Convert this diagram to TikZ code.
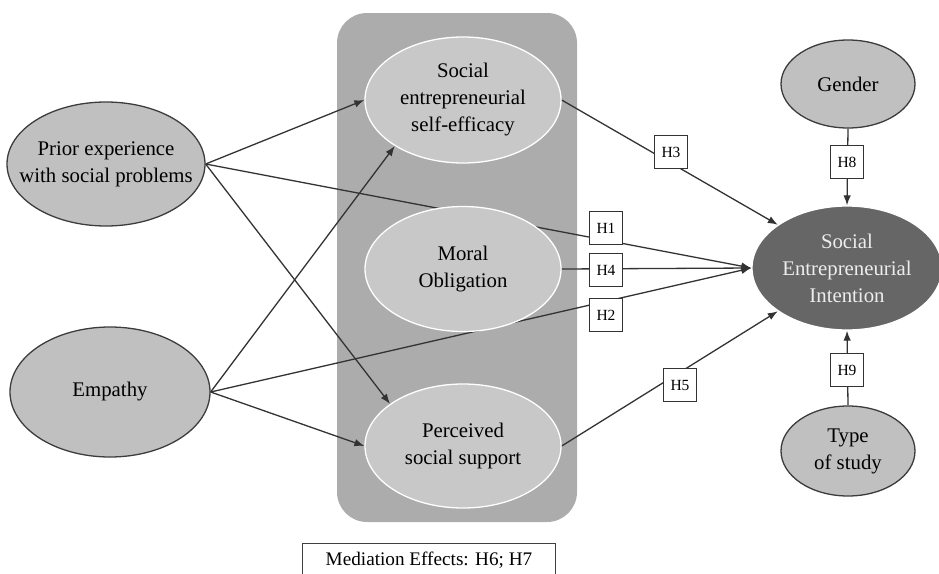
\documentclass[tikz,border=0pt]{standalone}
\usepackage{fontspec}
\setmainfont{Liberation Serif}
\usetikzlibrary{shapes.geometric,arrows.meta}

\definecolor{boxgray}{RGB}{172,172,172}
\definecolor{innergray}{RGB}{200,200,200}
\definecolor{outergray}{RGB}{192,192,192}
\definecolor{seigray}{RGB}{102,102,102}
\definecolor{ovalline}{RGB}{60,60,60}

\pgfdeclarelayer{back}
\pgfdeclarelayer{mid}
\pgfsetlayers{back,mid,main}

\tikzset{every picture/.style={line width=1.3pt}}
\tikzset{
  oval/.style={ellipse, draw=ovalline, fill=outergray, inner sep=0pt, align=center,
    font=\fontsize{20.8}{27}\selectfont},
  inoval/.style={oval, draw=white},
  hbox/.style={draw=black!80, fill=white, minimum size=33pt, inner sep=0pt,
    font=\fontsize{15.5}{18}\selectfont},
  link/.style={draw=black!80, line width=1.3pt, -{Latex[length=10pt,width=7.5pt]}}
}

\begin{document}
\begin{tikzpicture}[x=1pt,y=1pt,yscale=-1,xscale=1]
\useasboundingbox (0,0) rectangle (939,573);

%Shape: Ellipse [id:prior]
\node (prior) at (106,164) [oval, minimum width=198pt, minimum height=124pt, inner xsep=-40pt] {Prior experience\\with social problems};
%Shape: Ellipse [id:empathy]
\node (empathy) at (110,392) [oval, minimum width=200pt, minimum height=130pt] {Empathy};

%Shape: Ellipse [id:sese]
\node (sese) at (463,100) [inoval, fill=innergray, minimum width=196pt, minimum height=126pt] {Social\\entrepreneurial\\self-efficacy};
%Shape: Ellipse [id:moral]
\node (moral) at (463,269) [inoval, fill=innergray, minimum width=196pt, minimum height=125pt] {Moral\\Obligation};
%Shape: Ellipse [id:pss]
\node (pss) at (463,446) [inoval, fill=innergray, minimum width=196pt, minimum height=124pt] {Perceived\\social support};

%Shape: Ellipse [id:sei]
\node (sei) at (847,268) [oval, draw=white, fill=seigray, text=white!93!black, minimum width=190pt, minimum height=124pt] {Social\\Entrepreneurial\\Intention};
%Shape: Ellipse [id:gender]
\node (gender) at (848,84) [oval, minimum width=134pt, minimum height=88pt] {Gender};
%Shape: Ellipse [id:study]
\node (study) at (848,451) [oval, minimum width=134pt, minimum height=90pt] {Type\\of study};

%Shape: Rounded Rect [id:mediators]
\begin{pgfonlayer}{back}
\fill [boxgray, rounded corners=30pt] (337,13) rectangle (577,522) ;
\end{pgfonlayer}

%Straight Lines
\begin{pgfonlayer}{mid}
\draw [link] (prior.east) -- (sese.west) ;
\draw [link] (prior.east) -- (sei.west) ;
\draw [link] (prior.east) -- (pss.150) ;
\draw [link] (empathy.east) -- (sese.214) ;
\draw [link] (empathy.east) -- (sei.west) ;
\draw [link] (empathy.east) -- (pss.west) ;
\draw [link] (sese.east) -- (sei.148) ;
\draw [link] (moral.east) -- (sei.west) ;
\draw [link] (pss.east) -- (sei.212) ;
\draw [link] (gender.south) -- (sei.north) ;
\draw [link] (study.north) -- (sei.south) ;
\end{pgfonlayer}

% Text Node
\node (h1) at (606,228) [hbox] {H1};
\node (h2) at (606,315) [hbox] {H2};
\node (h3) at (671,152) [hbox] {H3};
\node (h4) at (606,270) [hbox] {H4};
\node (h5) at (680,385) [hbox] {H5};
\node (h8) at (847,162) [hbox] {H8};
\node (h9) at (847,370) [hbox] {H9};

% Text Node
\node (med) at (429,560) [draw=black!75, fill=white, minimum width=253pt, minimum height=34pt, font=\fontsize{19.2}{23}\selectfont] {Mediation Effects: H6; H7};

\end{tikzpicture}
\end{document}
